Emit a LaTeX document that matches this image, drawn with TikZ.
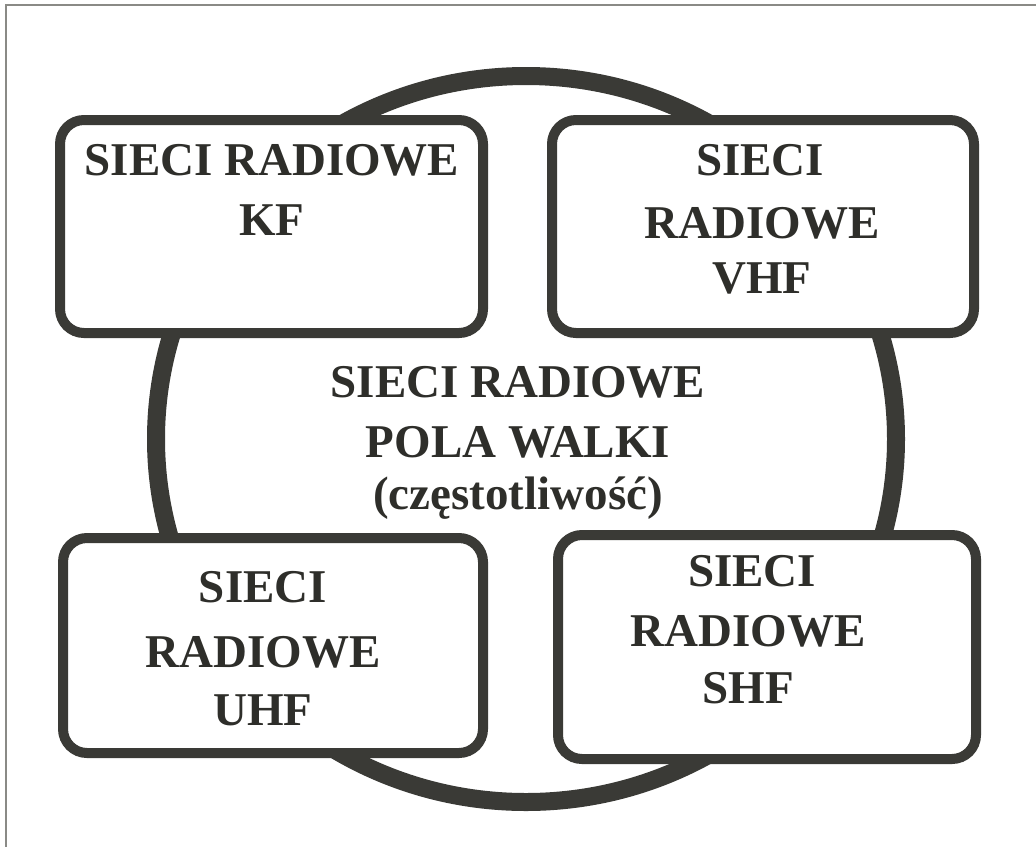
\documentclass[tikz,border=0pt]{standalone}
\usepackage{fontspec}
\setmainfont{Liberation Serif}
\usetikzlibrary{shapes.geometric}
\definecolor{ink}{HTML}{2E2E2A}
\definecolor{stroke}{HTML}{3A3A36}
\definecolor{frame}{HTML}{8A8A86}
\tikzset{
  ring/.style={ellipse, draw=stroke, line width=18pt, inner sep=0pt},
  rbox/.style={rectangle, draw=stroke, fill=white, line width=10pt, rounded corners=24pt, inner sep=0pt},
  lbl/.style={anchor=base, text=ink, inner sep=0pt, font=\fontsize{47}{56}\selectfont\bfseries},
  frameline/.style={draw=frame, line width=1.5pt}
}
\begin{document}
\begin{tikzpicture}[x=1pt, y=-1pt]
\useasboundingbox (0,0) rectangle (1036,847);
\coordinate (ftl) at (6,5);
\coordinate (ftr) at (1036,5);
\coordinate (fbl) at (6,847);
\draw[frameline] (ftr) -- (ftl) -- (fbl);
% ring
\node[ring, minimum width=740pt, minimum height=726pt] (ring) at (526,439) {};
% boxes
\node[rbox, minimum width=423pt, minimum height=213pt] (kf)  at (271.5,226.5) {};
\node[rbox, minimum width=422pt, minimum height=213pt] (vhf) at (763,226.5) {};
\node[rbox, minimum width=420pt, minimum height=215pt] (uhf) at (273,645.5) {};
\node[rbox, minimum width=418pt, minimum height=224pt] (shf) at (767,647) {};
% KF text
\node[lbl] (kf1) at (272,175) {SIECI RADIOWE};
\node[lbl] (kf2) at (272,235) {KF};
% VHF text
\node[lbl] (vhf1) at (760,175) {SIECI};
\node[lbl] (vhf2) at (762,238) {RADIOWE};
\node[lbl] (vhf3) at (762,293) {VHF};
% UHF text
\node[lbl] (uhf1) at (263,602) {SIECI};
\node[lbl] (uhf2) at (263,667) {RADIOWE};
\node[lbl] (uhf3) at (263,725) {UHF};
% SHF text
\node[lbl] (shf1) at (752,586) {SIECI};
\node[lbl] (shf2) at (748,646) {RADIOWE};
\node[lbl] (shf3) at (748,703) {SHF};
% centre text
\node[lbl] (c1) at (518,397) {SIECI RADIOWE};
\node[lbl] (c2) at (518,457) {POLA WALKI};
\node[lbl] (c3) at (518,509) {(częstotliwość)};
\end{tikzpicture}
\end{document}
